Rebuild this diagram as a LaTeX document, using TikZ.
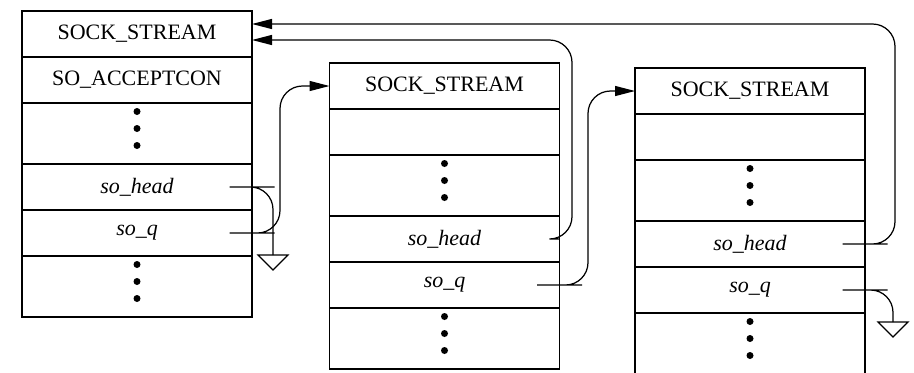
\documentclass[tikz,border=0pt]{standalone}
\usepackage{fontspec}
\setmainfont{Liberation Serif}
\usetikzlibrary{arrows.meta}

\newcommand{\fielddots}[1]{%
  \foreach \dy in {-0.34,0,0.34}
    \fill ([yshift=\dy cm+0.1cm]#1.center) circle (0.07);}

\begin{document}
\begin{tikzpicture}[
          field/.style={rectangle, draw, line width=0.7pt, minimum width=4.6cm, minimum height=0.92cm,
                        inner sep=0pt, outer sep=0pt, font=\fontsize{12.5}{14}\selectfont},
          dotfield/.style={field, minimum height=1.22cm},
          wire/.style={line width=0.7pt, rounded corners=0.45cm},
          link/.style={wire, -{Triangle[length=0.4cm, width=0.2cm]}}
        ]
          \useasboundingbox (0,0) rectangle (18.28,-7.44);

          % first socket (listening)
          \node[field] (s1) at (2.74,-0.68) {SOCK\_STREAM};
          \node[field] (a1) at (2.74,-1.60) {SO\_ACCEPTCON};
          \node[dotfield] (d1) at (2.74,-2.67) {};
          \node[field] (h1) at (2.74,-3.74) {\textit{so\_head}};
          \node[field] (q1) at (2.74,-4.66) {\textit{so\_q}};
          \node[dotfield] (r1) at (2.74,-5.73) {};

          % second socket
          \node[field] (s2) at (8.89,-1.72) {SOCK\_STREAM};
          \node[field] (e2) at (8.89,-2.64) {};
          \node[dotfield] (d2) at (8.89,-3.71) {};
          \node[field] (h2) at (8.89,-4.78) {\textit{so\_head}};
          \node[field] (q2) at (8.89,-5.70) {\textit{so\_q}};
          \node[dotfield] (r2) at (8.89,-6.77) {};

          % third socket
          \node[field] (s3) at (15.0,-1.82) {SOCK\_STREAM};
          \node[field] (e3) at (15.0,-2.74) {};
          \node[dotfield] (d3) at (15.0,-3.81) {};
          \node[field] (h3) at (15.0,-4.88) {\textit{so\_head}};
          \node[field] (q3) at (15.0,-5.80) {\textit{so\_q}};
          \node[dotfield] (r3) at (15.0,-6.87) {};

          % elided fields
          \fielddots{d1} \fielddots{r1}
          \fielddots{d2} \fielddots{r2}
          \fielddots{d3} \fielddots{r3}

          % pointer stubs and null ends
          \coordinate (hs1) at ([xshift=-0.4cm]h1.east);
          \coordinate (qs1) at ([xshift=-0.4cm]q1.east);
          \coordinate (qs2) at ([xshift=-0.4cm]q2.east);
          \coordinate (hs3) at ([xshift=-0.4cm]h3.east);
          \coordinate (qs3) at ([xshift=-0.4cm]q3.east);
          \coordinate (g1) at (5.46,-5.10);
          \coordinate (g3) at (17.86,-6.44);

          % null pointers
          \draw[wire] (hs1) -- (h1.east) -| (g1);
          \draw[wire] (qs3) -- (q3.east) -| (g3);
          \draw[line width=0.7pt] (g1) -- ++(-0.3,0) -- ++(0.3,-0.3) -- ++(0.3,0.3) -- cycle;
          \draw[line width=0.7pt] (g3) -- ++(-0.3,0) -- ++(0.3,-0.3) -- ++(0.3,0.3) -- cycle;

          % queue links
          \draw[link] (qs1) -- (q1.east) -| (5.60,-1.72) -- (s2.west);
          \draw[link] (qs2) -- (q2.east) -| (11.76,-1.82) -- (s3.west);

          % head links back to the listening socket
          \draw[link] (h2.east) -| (11.44,-0.80) -- ([yshift=-0.12cm]s1.east);
          \draw[link] (hs3) -- (h3.east) -| (17.90,-0.48) -- ([yshift=0.2cm]s1.east);
\end{tikzpicture}
\end{document}
